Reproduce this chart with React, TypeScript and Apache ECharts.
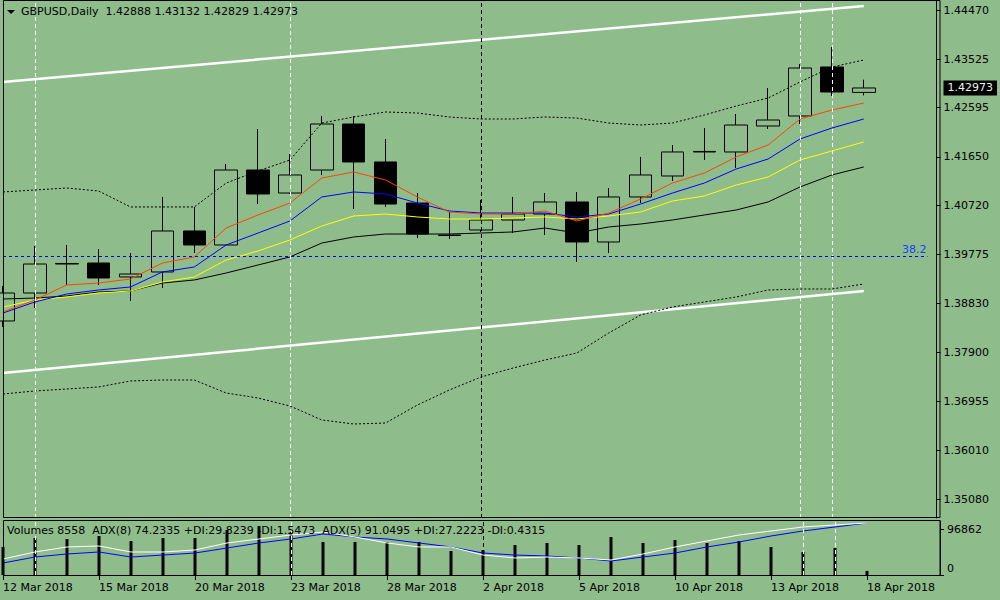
import React, { useEffect, useRef } from "react";
import * as echarts from "echarts";

const DATES = [
  "12 Mar 2018", "13 Mar 2018", "14 Mar 2018", "15 Mar 2018", "16 Mar 2018",
  "19 Mar 2018", "20 Mar 2018", "21 Mar 2018", "22 Mar 2018", "23 Mar 2018",
  "26 Mar 2018", "27 Mar 2018", "28 Mar 2018", "29 Mar 2018", "30 Mar 2018",
  "2 Apr 2018", "3 Apr 2018", "4 Apr 2018", "5 Apr 2018", "6 Apr 2018",
  "9 Apr 2018", "10 Apr 2018", "11 Apr 2018", "12 Apr 2018", "13 Apr 2018",
  "16 Apr 2018", "17 Apr 2018", "18 Apr 2018",
];
const FUTURE_DATES = ["19 Apr 2018", "20 Apr 2018"];

const OPEN = [1.38499, 1.39036, 1.39593, 1.39612, 1.39344, 1.3944, 1.40227, 1.39958, 1.41398, 1.40956, 1.41398, 1.42281, 1.41552, 1.40764, 1.4015, 1.40246, 1.40438, 1.40553, 1.40784, 1.40016, 1.4088, 1.41283, 1.41744, 1.41744, 1.42243, 1.42435, 1.43376, 1.42888];
const CLOSE = [1.39036, 1.39593, 1.39603, 1.39324, 1.39401, 1.40227, 1.39958, 1.41398, 1.40937, 1.41302, 1.42281, 1.41552, 1.40745, 1.40169, 1.4014, 1.40438, 1.40553, 1.40784, 1.40016, 1.4088, 1.41302, 1.41744, 1.41754, 1.42262, 1.42358, 1.43356, 1.42896, 1.42973];
const LOW = [1.38384, 1.38748, 1.3919, 1.3919, 1.38883, 1.39132, 1.39804, 1.39939, 1.40745, 1.40937, 1.41302, 1.40649, 1.40688, 1.40092, 1.40073, 1.40208, 1.40188, 1.4015, 1.39632, 1.39804, 1.40764, 1.41187, 1.4159, 1.41436, 1.42185, 1.42281, 1.42819, 1.42829];
const HIGH = [1.39171, 1.39939, 1.39958, 1.39881, 1.39804, 1.4088, 1.40688, 1.41513, 1.42185, 1.41705, 1.42435, 1.42435, 1.41993, 1.40956, 1.40592, 1.40822, 1.4088, 1.40956, 1.40976, 1.41052, 1.41648, 1.41878, 1.42204, 1.42473, 1.42972, 1.43433, 1.4376, 1.43132];

const MA_ORANGE = [1.38672, 1.38902, 1.3919, 1.39228, 1.39305, 1.39612, 1.39728, 1.40284, 1.40534, 1.40764, 1.41244, 1.4136, 1.41206, 1.4088, 1.40592, 1.40553, 1.40553, 1.40611, 1.40419, 1.40572, 1.40841, 1.41148, 1.4134, 1.41648, 1.41878, 1.42377, 1.4255, 1.42684];
const MA_BLUE = [1.38652, 1.38864, 1.39017, 1.39094, 1.39152, 1.3944, 1.39536, 1.39958, 1.40188, 1.40419, 1.4088, 1.40976, 1.40937, 1.40764, 1.40611, 1.40572, 1.40572, 1.40572, 1.40496, 1.40553, 1.40745, 1.40956, 1.41148, 1.41417, 1.41609, 1.41993, 1.42204, 1.42377];
const MA_YELLOW = [1.38768, 1.38902, 1.3896, 1.39036, 1.39075, 1.39248, 1.39344, 1.3967, 1.39843, 1.40054, 1.40323, 1.40515, 1.40553, 1.40496, 1.40457, 1.40457, 1.40476, 1.40496, 1.40457, 1.40515, 1.40592, 1.40803, 1.40899, 1.4111, 1.41264, 1.4159, 1.41763, 1.41936];
const MA_BLACK = [1.38921, 1.3894, 1.38979, 1.39056, 1.39075, 1.39228, 1.39286, 1.3942, 1.39574, 1.39728, 1.39996, 1.40112, 1.40169, 1.40169, 1.40169, 1.40188, 1.40208, 1.40284, 1.40188, 1.40304, 1.40361, 1.40438, 1.40534, 1.4063, 1.40784, 1.41072, 1.41302, 1.41456];
const BAND_UPPER = [1.40976, 1.41014, 1.41052, 1.40995, 1.40688, 1.40688, 1.40688, 1.41148, 1.41379, 1.4159, 1.423, 1.42416, 1.42512, 1.42492, 1.42416, 1.42377, 1.42377, 1.42416, 1.42396, 1.423, 1.42262, 1.423, 1.42454, 1.42627, 1.4278, 1.43088, 1.43376, 1.4351];
const BAND_LOWER = [1.37097, 1.37155, 1.37193, 1.37232, 1.37347, 1.37366, 1.37366, 1.37116, 1.3702, 1.36867, 1.36598, 1.36521, 1.3654, 1.36886, 1.37174, 1.37424, 1.37596, 1.3775, 1.37884, 1.38268, 1.38614, 1.38768, 1.38864, 1.3896, 1.39094, 1.39113, 1.39113, 1.39209];

const CHANNEL_UPPER = [1.43088, 1.44547];
const CHANNEL_LOWER = [1.375, 1.39075];
const FIB_382 = 1.39747;

const VOLUMES = [58970, 77920, 75810, 82130, 71600, 77920, 77920, 94770, 103190, 90560, 69500, 69500, 69500, 69500, 50540, 52650, 63180, 67390, 63180, 80030, 67390, 73710, 67390, 71600, 58970, 48440, 56860, 8558];
const ADX_WHITE = [29.6, 42.6, 51.9, 53.7, 42.6, 42.6, 46.3, 59.3, 66.7, 74.1, 79.6, 70.4, 59.3, 51.9, 51.9, 37.0, 31.5, 33.3, 31.5, 27.8, 38.9, 51.9, 63.0, 74.1, 81.5, 88.9, 92.6, 96.3];
const ADX_BLUE = [22.2, 33.3, 38.9, 42.6, 33.3, 37.0, 40.7, 50.0, 59.3, 66.7, 75.9, 70.4, 66.7, 59.3, 51.9, 40.7, 37.0, 35.2, 31.5, 25.9, 33.3, 40.7, 51.9, 61.1, 72.2, 81.5, 88.9, 96.3];

const PRICE_TICKS = [1.4447, 1.43525, 1.42595, 1.4165, 1.4072, 1.39775, 1.3883, 1.379, 1.36955, 1.3601, 1.3508];
const CURRENT_PRICE = 1.42973;
const PRICE_MIN = 1.34716;
const PRICE_MAX = 1.44643;
const VOLUME_TICKS = [0, 96862];
const VOLUME_MAX = 113710;

const VLINES_WHITE = ["13 Mar 2018", "23 Mar 2018", "16 Apr 2018", "17 Apr 2018"];
const VLINE_BLACK = "2 Apr 2018";

const TITLE = "GBPUSD,Daily  1.42888 1.43132 1.42829 1.42973";
const SUB_TITLE = "Volumes 8558  ADX(8) 74.2335 +DI:29.8239 -DI:1.5473  ADX(5) 91.0495 +DI:27.2223 -DI:0.4315";

const BG = "#8fbc8b";
const FONT = "DejaVu Sans";

const ALL_DATES = [...DATES, ...FUTURE_DATES];

function vLines() {
  return [
    ...VLINES_WHITE.map((d) => ({ xAxis: d, lineStyle: { color: "#ffffff", type: [4, 3], width: 1 } })),
    { xAxis: VLINE_BLACK, lineStyle: { color: "#000000", type: [4, 3], width: 1 } },
  ];
}

function line(name: string, data: any[], color: string, extra: any = {}) {
  return {
    type: "line",
    name,
    data,
    xAxisIndex: 0,
    yAxisIndex: 0,
    showSymbol: false,
    symbol: "none",
    silent: true,
    z: 4,
    lineStyle: { color, width: 1 },
    ...extra,
  };
}

export default function App() {
  const ref = useRef<HTMLDivElement>(null);
  useEffect(() => {
    const chart = echarts.init(ref.current!, null, { renderer: "svg" });
    const last = DATES.length - 1;
    const option: any = {
      animation: false,
      backgroundColor: BG,
      textStyle: { fontFamily: FONT, fontSize: 11, color: "#000" },
      title: [
        { text: TITLE, left: 21, top: 6, padding: 0, textStyle: { fontFamily: FONT, fontSize: 11, fontWeight: "normal", color: "#000" } },
        { text: SUB_TITLE, left: 7, top: 525, padding: 0, textStyle: { fontFamily: FONT, fontSize: 11, fontWeight: "normal", color: "#000" } },
      ],
      grid: [
        { left: 3, top: 1, width: 928, height: 517 },
        { left: 3, top: 521, width: 928, height: 54 },
      ],
      xAxis: [
        { type: "category", gridIndex: 0, data: ALL_DATES, boundaryGap: false, show: false },
        {
          type: "category",
          gridIndex: 1,
          data: ALL_DATES,
          boundaryGap: false,
          axisLine: { show: false },
          splitLine: { show: false },
          axisTick: { show: true, interval: 2, length: 5, lineStyle: { color: "#000" } },
          axisLabel: { interval: 2, align: "left", margin: 7, color: "#000", fontFamily: FONT, fontSize: 11 },
        },
      ],
      yAxis: [
        {
          type: "value",
          gridIndex: 0,
          position: "right",
          offset: 9,
          min: PRICE_MIN,
          max: PRICE_MAX,
          splitLine: { show: false },
          axisLine: { show: true, lineStyle: { color: "#000" } },
          axisTick: { show: true, length: 4, customValues: PRICE_TICKS, lineStyle: { color: "#000" } },
          axisLabel: {
            customValues: [...PRICE_TICKS, CURRENT_PRICE],
            margin: 7,
            color: "#000",
            fontFamily: FONT,
            fontSize: 11,
            formatter: (v: number) =>
              Math.abs(v - CURRENT_PRICE) < 1e-9 ? `{cur|${v.toFixed(5)}}` : v.toFixed(5),
            rich: {
              cur: { backgroundColor: "#000", color: "#e8f4e8", fontFamily: FONT, fontSize: 11, padding: [2, 4, 2, 4] },
            },
          },
        },
        {
          type: "value",
          gridIndex: 1,
          position: "right",
          offset: 9,
          min: 0,
          max: VOLUME_MAX,
          splitLine: { show: false },
          axisLine: { show: true, lineStyle: { color: "#000" } },
          axisTick: { show: true, length: 4, customValues: VOLUME_TICKS, lineStyle: { color: "#000" } },
          axisLabel: {
            customValues: VOLUME_TICKS,
            margin: 7,
            color: "#000",
            fontFamily: FONT,
            fontSize: 11,
            formatter: (v: number) => (v === 0 ? "{z|0}" : String(v)),
            rich: { z: { fontFamily: FONT, fontSize: 11, color: "#000", padding: [0, 0, 14, 0] } },
          },
        },
        { type: "value", gridIndex: 1, min: 0, max: 100, show: false, splitLine: { show: false } },
      ],
      series: [
        {
          type: "candlestick",
          name: "GBPUSD",
          xAxisIndex: 0,
          yAxisIndex: 0,
          barWidth: 23,
          z: 2,
          silent: true,
          data: OPEN.map((o, i) => [o, CLOSE[i], LOW[i], HIGH[i]]),
          itemStyle: {
            color: BG,
            color0: "#000",
            borderColor: "#000",
            borderColor0: "#000",
            borderColorDoji: "#000",
            borderWidth: 1,
          },
          markLine: {
            symbol: ["none", "none"],
            silent: true,
            label: { show: false },
            data: vLines(),
          },
        },
        line("Upper channel", [[DATES[0], CHANNEL_UPPER[0]], [DATES[last], CHANNEL_UPPER[1]]], "#ffffff", { lineStyle: { color: "#ffffff", width: 2.5 }, z: 3 }),
        line("Lower channel", [[DATES[0], CHANNEL_LOWER[0]], [DATES[last], CHANNEL_LOWER[1]]], "#ffffff", { lineStyle: { color: "#ffffff", width: 2.5 }, z: 3 }),
        line("Band upper", BAND_UPPER, "#000", { lineStyle: { color: "#000", width: 1, type: [2, 2] } }),
        line("Band lower", BAND_LOWER, "#000", {
          lineStyle: { color: "#000", width: 1, type: [2, 2] },
          markLine: {
            symbol: ["none", "none"],
            silent: true,
            precision: 5,
            data: [
              {
                yAxis: FIB_382,
                lineStyle: { color: "#0000ff", type: [3, 3], width: 1 },
                label: {
                  show: true,
                  position: "insideEndTop",
                  formatter: "38.2",
                  color: "#1a3cff",
                  fontFamily: FONT,
                  fontSize: 11,
                  distance: 1,
                },
              },
            ],
          },
        }),
        line("MA black", MA_BLACK, "#000000"),
        line("MA yellow", MA_YELLOW, "#ffff00"),
        line("MA blue", MA_BLUE, "#0000ff"),
        line("MA orange", MA_ORANGE, "#ff4500"),
        {
          type: "bar",
          name: "Volumes",
          xAxisIndex: 1,
          yAxisIndex: 1,
          data: VOLUMES,
          barWidth: 3,
          silent: true,
          z: 2,
          itemStyle: { color: "#000" },
          markLine: {
            symbol: ["none", "none"],
            silent: true,
            label: { show: false },
            data: vLines(),
          },
        },
        line("ADX(5)", ADX_BLUE, "#0000ff", { xAxisIndex: 1, yAxisIndex: 2 }),
        line("ADX(8)", ADX_WHITE, "#ffffff", { xAxisIndex: 1, yAxisIndex: 2 }),
      ],
      graphic: [
        {
          type: "rect",
          z: 100,
          silent: true,
          shape: { x: 3.5, y: 0.5, width: 936.5, height: 517 },
          style: { fill: "none", stroke: "#000", lineWidth: 1 },
        },
        {
          type: "rect",
          z: 100,
          silent: true,
          shape: { x: 3.5, y: 520.5, width: 936.5, height: 55 },
          style: { fill: "none", stroke: "#000", lineWidth: 1 },
        },
        {
          type: "polygon",
          z: 100,
          silent: true,
          shape: { points: [[7, 10], [15, 10], [11, 14]] },
          style: { fill: "#000" },
        },
      ],
    };
    chart.setOption(option);
    return () => chart.dispose();
  }, []);
  return <div ref={ref} style={{ position: "fixed", left: 0, top: 0, width: 1000, height: 600 }} />;
}
